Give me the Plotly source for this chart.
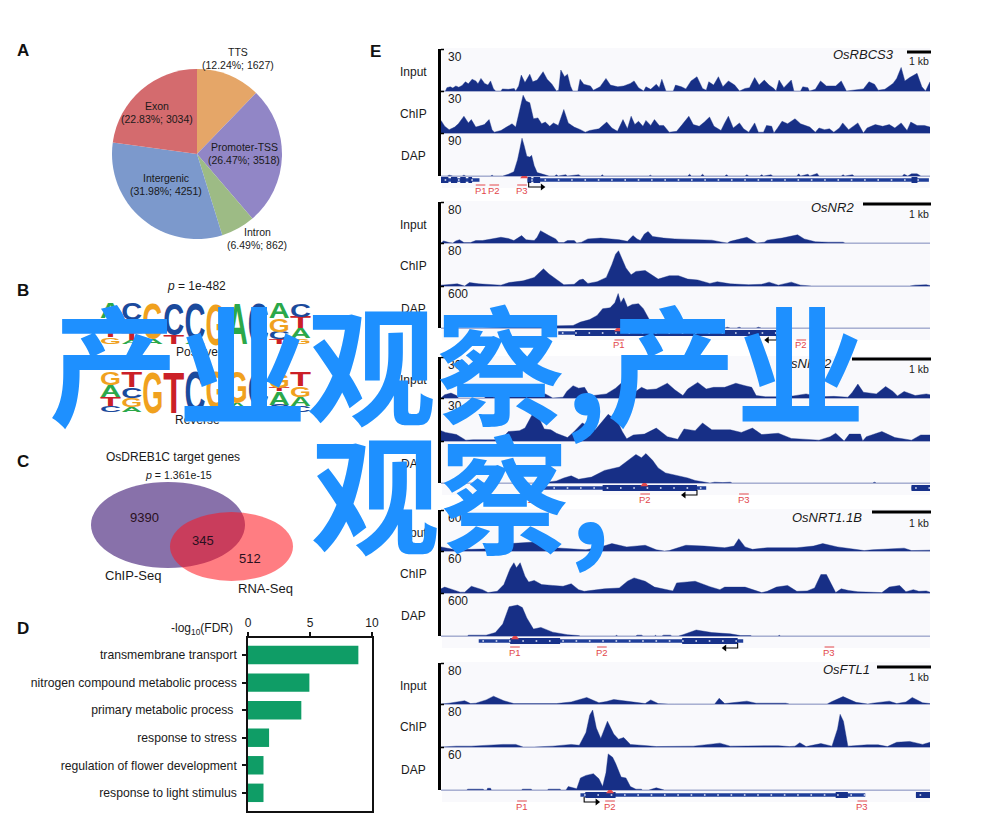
import plotly.graph_objects as go

W, H = 1000, 826
FONT = "Liberation Sans"
NAVY = "#172F86"
RED = "#E2474B"

# ---------- Panel A ----------
pie_labels = ["TTS", "Promoter-TSS", "Intron", "Intergenic", "Exon"]
pie_values = [1627, 3518, 862, 4251, 3034]
pie_pct = ["12.24", "26.47", "6.49", "31.98", "22.83"]
pie_colors = ["#E5A668", "#9186C6", "#9DBB85", "#7C99CC", "#D46B6E"]

# ---------- Panel B: information content (bits), top to bottom in each column ----------
logo_pos_letters = [list("ACTG"), list("CGTA"), list("GA"), list("CT"), list("CA"), list("G"), list("A"), list("C"), list("AGCT"), list("CTAG")]
logo_pos_bits = [[.74, .33, .6, .33], [.82, .6, .38, .2], [1.72, .28], [1.56, .44], [1.8, .2], [2.0], [2.0], [2.0], [.74, .66, .36, .24], [.66, .57, .49, .28]]
logo_rev_letters = [list("GATC"), list("TCGA"), list("G"), list("T"), list("C"), list("GT"), list("GAT"), list("CG"), list("GTAC"), list("TGAC")]
logo_rev_bits = [[.62, .58, .43, .31], [.74, .54, .44, .25], [2.0], [2.0], [2.0], [1.8, .2], [1.52, .34, .14], [1.7, .3], [.7, .16, .66, .36], [.72, .52, .43, .31]]
logo_colors = {"A": "#2BA84A", "C": "#1B4A9C", "G": "#F0A11E", "T": "#CB2027"}

# ---------- Panel C ----------
venn_counts = ["9390", "345", "512"]

# ---------- Panel D ----------
go_terms = ["transmembrane transport", "nitrogen compound metabolic process", "primary metabolic process ",
            "response to stress", "regulation of flower development", "response to light stimulus"]
go_scores = [8.9, 4.95, 4.3, 1.7, 1.25, 1.25]

# ---------- Panel E: (position, signal as % of the track scale) ----------
rbcs3_input = [(218,0),(230,0),(234,8),(243,10),(250,7),(258,12),(266,9),(275,13),(284,22),(292,17),(302,28),(312,24),(318,17),(326,30),(336,18),(345,14),(352,24),(360,5),(366,0),(380,0),(384,5),(400,4),(416,6),(420,0),(428,12),(435,38),(445,20),(458,40),(466,22),(478,26),(494,46),(505,28),(518,16),(530,0),(536,2),(542,50),(552,34),(560,40),(568,12),(574,0),(588,0),(594,28),(604,16),(622,12),(630,2),(648,10),(664,30),(676,14),(696,10),(712,12),(730,18),(740,24),(752,8),(766,0),(772,10),(785,4),(800,16),(808,8),(815,28),(826,0),(846,0),(852,14),(868,10),(880,5),(894,24),(910,34),(925,6),(935,2),(942,22),(955,14),(968,34),(980,10),(995,24),(1012,14),(1025,0),(1040,6),(1052,8),(1066,32),(1078,14),(1092,26),(1105,14),(1118,6),(1124,0),(1132,26),(1145,8),(1165,26),(1172,0),(1190,0),(1196,10),(1210,8),(1214,0),(1230,4),(1244,24),(1260,12),(1285,12),(1300,24),(1314,0),(1340,3),(1360,5),(1375,22),(1390,16),(1400,2),(1418,4),(1440,18),(1450,30),(1462,56),(1472,24),(1485,32),(1505,42),(1518,10),(1528,0),(1540,22)]
rbcs3_chip = [(218,30),(228,16),(240,8),(255,14),(265,22),(280,40),(292,24),(300,32),(312,14),(322,16),(335,20),(348,32),(356,8),(362,2),(380,6),(395,14),(410,22),(420,14),(430,52),(440,90),(448,76),(458,72),(468,34),(480,36),(490,22),(500,26),(512,16),(522,24),(535,18),(550,56),(562,24),(578,14),(595,8),(608,2),(620,6),(645,10),(666,26),(680,12),(695,4),(710,32),(722,10),(732,40),(742,20),(752,28),(764,16),(772,30),(785,18),(795,32),(808,18),(820,18),(835,2),(855,4),(870,20),(888,40),(900,20),(916,16),(930,26),(944,38),(956,16),(975,6),(985,24),(995,40),(1008,12),(1025,24),(1036,10),(1050,2),(1066,24),(1076,2),(1090,2),(1098,18),(1112,16),(1118,0),(1128,12),(1140,28),(1155,22),(1175,34),(1190,22),(1215,14),(1230,2),(1240,12),(1255,8),(1268,10),(1280,2),(1295,12),(1304,24),(1320,8),(1345,24),(1360,0),(1370,12),(1392,20),(1412,16),(1430,20),(1445,12),(1462,24),(1478,6),(1488,26),(1505,18),(1525,18),(1540,14)]
rbcs3_dap = [(218,0),(235,0),(240,2),(250,0),(275,0),(280,2),(285,0),(352,0),(356,2),(360,0),(385,0),(400,4),(415,10),(425,38),(431,62),(437,88),(443,70),(450,46),(458,44),(463,48),(470,24),(478,8),(490,5),(505,2),(510,0),(525,0),(530,3),(535,0),(555,3),(560,0),(590,3),(596,0),(650,0),(654,3),(658,0),(780,0),(784,2),(788,0),(885,0),(890,4),(895,0),(920,0),(925,4),(930,0),(985,0),(990,3),(995,0),(1040,0),(1045,3),(1050,0),(1080,0),(1085,3),(1090,0),(1110,3),(1115,0),(1180,0),(1185,5),(1190,0),(1210,4),(1215,0),(1235,6),(1240,0),(1300,0),(1305,3),(1310,0),(1330,3),(1335,0),(1465,0),(1470,4),(1480,0),(1490,5),(1505,5),(1515,0),(1540,0)]
nr2_input = [(218,0),(225,5),(240,1),(250,0),(258,5),(268,8),(280,1),(298,1),(312,6),(330,6),(350,9),(380,14),(400,11),(415,6),(436,18),(448,8),(470,6),(478,14),(487,30),(497,24),(510,18),(528,10),(536,1),(550,1),(560,6),(578,6),(585,0),(598,2),(615,10),(650,12),(675,10),(700,8),(722,4),(737,18),(748,10),(757,6),(768,22),(778,28),(790,16),(820,12),(850,10),(900,9),(950,7),(978,2),(992,0),(1000,4),(1020,8),(1045,14),(1060,6),(1072,0),(1092,2),(1100,7),(1140,12),(1182,20),(1200,10),(1230,3),(1265,2),(1305,2),(1310,0),(1540,0)]
nr2_chip = [(218,2),(235,3),(262,5),(282,0),(295,8),(320,5),(350,4),(380,2),(402,8),(440,12),(470,20),(482,30),(495,40),(510,28),(530,16),(550,3),(578,4),(592,14),(602,16),(615,6),(640,10),(665,20),(680,50),(690,74),(698,82),(708,62),(718,42),(732,26),(745,34),(770,36),(785,28),(805,16),(835,24),(860,24),(885,16),(912,14),(945,6),(965,10),(1000,5),(1050,3),(1085,4),(1105,9),(1130,2),(1145,5),(1165,9),(1190,2),(1220,0),(1485,0),(1500,2),(1530,3),(1540,1)]
nr2_dap = [(218,0),(330,0),(400,3),(500,4),(540,6),(575,6),(595,14),(620,20),(640,30),(655,46),(675,48),(688,60),(697,82),(704,60),(712,72),(722,50),(735,56),(752,58),(765,46),(778,26),(790,6),(808,2),(815,0),(985,0),(992,2),(1000,0),(1018,0),(1024,2),(1030,0),(1070,0),(1076,2),(1084,0),(1540,0)]
nar2_input = [(218,0),(228,8),(245,12),(260,6),(265,0),(335,0),(345,8),(360,2),(420,10),(500,10),(520,0),(548,2),(558,16),(575,30),(590,24),(606,26),(620,5),(640,8),(665,10),(690,24),(705,36),(725,30),(742,14),(760,26),(775,20),(800,22),(830,36),(850,20),(872,6),(885,22),(912,38),(935,22),(955,26),(985,26),(1015,36),(1040,30),(1058,26),(1070,6),(1095,3),(1125,3),(1170,5),(1205,10),(1240,3),(1280,4),(1305,2),(1318,2),(1330,14),(1345,34),(1360,14),(1395,10),(1420,28),(1440,16),(1452,5),(1470,16),(1500,6),(1530,10),(1540,8)]
nar2_chip = [(218,24),(230,20),(260,15),(285,2),(305,3),(360,3),(380,3),(400,22),(430,24),(445,30),(458,52),(470,70),(485,50),(497,28),(515,26),(530,18),(560,8),(578,22),(600,42),(635,26),(670,62),(695,46),(708,22),(720,5),(738,14),(768,16),(800,30),(830,10),(858,4),(875,28),(905,24),(925,42),(950,26),(1000,26),(1030,20),(1060,30),(1085,15),(1130,18),(1165,6),(1225,2),(1240,2),(1270,10),(1285,18),(1308,0),(1322,16),(1352,16),(1358,0),(1368,10),(1410,22),(1445,8),(1480,4),(1490,2),(1515,14),(1540,14)]
nar2_dap = [(218,0),(490,0),(530,5),(550,12),(570,17),(590,9),(625,14),(660,30),(700,38),(725,54),(745,68),(760,60),(772,70),(790,54),(805,36),(825,24),(860,17),(885,12),(905,6),(930,2),(945,0),(958,2),(980,1),(1000,2),(1005,0),(1385,0),(1390,2),(1395,0),(1540,0)]
nrt11_input = [(218,10),(228,8),(250,4),(300,4),(350,5),(380,6),(405,18),(440,20),(470,22),(490,10),(530,8),(570,5),(610,3),(650,10),(680,18),(720,10),(770,14),(800,3),(822,0),(835,1),(860,8),(880,14),(930,12),(985,8),(1010,12),(1023,30),(1040,10),(1060,4),(1100,8),(1180,8),(1225,12),(1250,18),(1290,10),(1335,5),(1362,1),(1385,3),(1470,7),(1490,1),(1520,2),(1540,2)]
nrt11_chip = [(218,10),(228,14),(250,8),(270,2),(282,2),(300,16),(330,8),(345,1),(370,4),(388,20),(405,58),(415,72),(422,60),(432,72),(445,40),(455,26),(470,30),(490,20),(520,18),(548,16),(570,22),(590,8),(605,4),(660,10),(700,12),(722,28),(740,36),(770,28),(795,14),(845,5),(855,24),(885,26),(905,28),(945,15),(972,8),(985,14),(1040,14),(1085,1),(1100,4),(1125,14),(1155,18),(1180,4),(1208,5),(1228,12),(1245,44),(1260,44),(1272,24),(1285,1),(1300,10),(1320,6),(1345,3),(1410,1),(1430,14),(1458,18),(1475,3),(1495,8),(1510,4),(1530,5),(1540,2)]
nrt11_dap = [(218,0),(290,0),(292,2),(340,2),(365,8),(385,28),(402,68),(415,70),(425,72),(438,66),(450,42),(468,16),(488,20),(520,9),(560,3),(590,1),(595,0),(690,0),(692,2),(696,0),(745,0),(748,2),(760,2),(764,0),(795,0),(798,2),(800,0),(815,0),(820,2),(838,2),(842,0),(860,0),(872,3),(908,14),(950,8),(1000,5),(1028,1),(1055,1),(1058,0),(1130,0),(1132,2),(1136,0),(1540,0)]
ftl1_input = [(218,0),(240,2),(282,8),(298,1),(312,2),(340,10),(360,19),(388,8),(415,1),(530,1),(570,5),(612,16),(645,3),(665,6),(685,11),(745,3),(770,1),(785,10),(805,1),(832,0),(845,1),(850,0),(958,0),(970,14),(985,1),(1015,4),(1045,7),(1070,2),(1110,2),(1150,2),(1160,0),(1262,0),(1275,6),(1305,18),(1340,4),(1372,0),(1385,2),(1430,7),(1450,1),(1475,5),(1492,16),(1520,3),(1540,1)]
ftl1_chip = [(218,0),(260,2),(300,2),(340,4),(385,6),(420,6),(440,0),(470,0),(520,2),(570,6),(592,4),(610,34),(620,74),(628,86),(638,44),(650,20),(668,60),(685,30),(698,18),(712,22),(730,6),(775,3),(800,1),(900,2),(972,9),(1000,2),(1050,2),(1130,3),(1160,1),(1175,2),(1188,10),(1205,1),(1245,8),(1275,2),(1290,42),(1297,76),(1306,60),(1318,2),(1370,5),(1400,5),(1425,1),(1450,11),(1485,13),(1520,6),(1540,11)]
ftl1_dap = [(218,0),(288,0),(290,2),(332,2),(334,0),(342,0),(344,4),(352,4),(354,0),(436,0),(438,2),(462,2),(464,0),(506,0),(508,2),(540,2),(542,0),(556,0),(562,8),(585,3),(595,28),(610,34),(630,38),(645,26),(655,8),(664,40),(670,84),(682,76),(690,62),(705,30),(718,28),(730,8),(745,2),(760,2),(762,0),(780,0),(800,5),(820,1),(822,0),(1540,0)]

# gene models: name, scale labels, tracks, intron spans, exon spans, promoter-fragment labels
gene_names = ["OsRBCS3", "OsNR2", "OsNRT2", "OsNRT1.1B", "OsFTL1"]
gene_name_x = [863, 832, 806, 827, 846]
gene_name_y = [54, 207, 363, 517, 669]
scale_bar_left = [907, 863, 852, 872, 877]
scale_bar_y = [52, 204, 359, 512, 667]
kb_y = [61, 214, 369, 523, 677]
track_scales = [["30", "30", "90"], ["80", "80", "600"], ["30", "30", "90"], ["60", "60", "600"], ["80", "80", "60"]]
track_data = [[rbcs3_input, rbcs3_chip, rbcs3_dap], [nr2_input, nr2_chip, nr2_dap], [nar2_input, nar2_chip, nar2_dap],
              [nrt11_input, nrt11_chip, nrt11_dap], [ftl1_input, ftl1_chip, ftl1_dap]]
track_names = ["Input", "ChIP", "DAP"]
track_edges = [[49, 91, 133, 176], [202, 243, 286, 328], [357, 398, 441, 483], [510, 551, 593, 636], [663, 704, 747, 790]]
gene_thin = [[(218, 322), (452, 1537)], [(535, 1125)], [(440, 935), (1490, 1540)], [(320, 1035)], [(595, 1365), (1502, 1540)]]
gene_thick = [[(218, 238), (245, 262), (270, 285), (292, 302), (452, 462), (468, 486), (1490, 1506)],
              [(580, 1125)], [(655, 910), (1490, 1540)], [(405, 540), (870, 1020)],
              [(608, 690), (1285, 1318), (1502, 1540)]]
fragment_names = [["P1", "P2", "P3"], ["P1", "P2"], ["P1", "P2", "P3"], ["P1", "P2", "P3"], ["P1", "P2", "P3"]]
fragment_pos = [[325, 362, 437], [700, 1192], [450, 770, 1037], [418, 653, 1268], [437, 675, 1357]]
peak_pos = [443, 697, 768, 418, 675]
tss_arrows = [(455, 492), (1125, 1100), (910, 875), (1020, 985), (605, 640)]
band_offset = [4, 5, 5, 5, 5]
arrow_offset = [11, 12, 12, 12, 12]
frag_offset = [14, 17, 16, 16, 16]


def px(x, y):
    return x / W, 1 - y / H


def dom_y(top, bottom):
    return [1 - bottom / H, 1 - top / H]


fig = go.Figure()
annots, shapes = [], []
layout_axes = {}


def ann(text, x, y, size=12, color="#1a1a1a", anchor="center", **kw):
    ax, ay = px(x, y)
    annots.append(dict(text=text, x=ax, y=ay, xref="paper", yref="paper", showarrow=False, xanchor=anchor, yanchor="middle",
                       font=dict(family=FONT, size=size, color=color), **kw))


# Panel letters
for letter, lx, ly in [("A", 23, 51), ("B", 23, 290), ("C", 23, 461), ("D", 23, 628), ("E", 375, 52)]:
    ann(f"<b>{letter}</b>", lx, ly, size=17, color="#111111")

# --- A: pie ---
fig.add_trace(go.Pie(labels=pie_labels, values=pie_values, sort=False, direction="clockwise", rotation=0, textinfo="none",
                     marker=dict(colors=pie_colors, line=dict(width=0)), showlegend=False, hoverinfo="skip",
                     domain=dict(x=[112 / W, 282 / W], y=dom_y(69, 239))))
for i, (lx, ly) in enumerate([(238, 52), (244, 147), (257, 232), (166, 178), (157, 106)]):
    ann(pie_labels[i], lx, ly, size=10.5)
    ann(f"({pie_pct[i]}%; {pie_values[i]:d})", lx, ly + 13, size=10.5)

# --- B: logos ---
layout_axes["xaxis2"] = dict(domain=[100 / W, 311 / W], range=[0.5, 10.5], visible=False, anchor="y2")
layout_axes["yaxis2"] = dict(domain=dom_y(298, 339), range=[0, 2], visible=False, anchor="x2")
layout_axes["yaxis3"] = dict(domain=dom_y(366, 407), range=[0, 2], visible=False, anchor="x2")
BIT_PX, COL_PX = 20.5, 21


def logo_trace(letters, bits, axis):
    xs, ys, ts, cs, cd = [], [], [], [], []
    for col, (ll, bb) in enumerate(zip(letters, bits), start=1):
        base = 0
        for letter, b in zip(reversed(ll), reversed(bb)):
            xs.append(col); ys.append(base); ts.append(letter); cs.append(logo_colors[letter])
            cd.append([COL_PX, b * BIT_PX, axis])
            base += b
    fig.add_trace(go.Scatter(x=xs, y=ys, text=ts, mode="text", customdata=cd, cliponaxis=False, showlegend=False, hoverinfo="skip",
                             textfont=dict(family=FONT, size=20, color=cs, weight=700), xaxis="x2",
                             yaxis="y2" if axis == "yaxis2" else "y3"))


logo_trace(logo_pos_letters, logo_pos_bits, "yaxis2")
logo_trace(logo_rev_letters, logo_rev_bits, "yaxis3")
ann("<i>p</i> = 1e-482", 196, 286)
ann("Positive", 197, 352)
ann("Reverse", 197, 420)

# --- C: venn ---
ex1, ey1 = px(91, 482), px(245, 568)
ex2, ey2 = px(170, 512), px(293, 581)
shapes.append(dict(type="circle", xref="paper", yref="paper", x0=ex1[0], x1=ey1[0], y0=ex1[1], y1=ey1[1], fillcolor="#8871AA", line_width=0))
shapes.append(dict(type="circle", xref="paper", yref="paper", x0=ex2[0], x1=ey2[0], y0=ex2[1], y1=ey2[1], fillcolor="rgba(255,18,27,0.55)", line_width=0))
ann("OsDREB1C target genes", 173, 457, size=12)
ann("<i>p</i> = 1.361e-15", 178, 475, size=10.6)
for txt, lx, ly in zip(venn_counts, [144, 203, 250], [517, 540, 558]):
    ann(txt, lx, ly, size=13, color="#2a1020")
ann("ChIP-Seq", 133, 575, size=13)
ann("RNA-Seq", 265, 588, size=13)

# --- D: bars ---
fig.add_trace(go.Bar(x=go_scores, y=go_terms, orientation="h", marker=dict(color="#0F9D66", line_width=0), width=0.67,
                     showlegend=False, hoverinfo="skip", xaxis="x", yaxis="y"))
layout_axes["xaxis"] = dict(domain=[248 / W, 372 / W], range=[0, 10], side="top", tickvals=[0, 5, 10], ticks="outside", ticklen=4, tickwidth=1.5,
                            tickcolor="#111", showline=True, linecolor="#111", linewidth=1.5, mirror=True, showgrid=False, zeroline=False, anchor="y",
                            tickfont=dict(family=FONT, size=12, color="#1a1a1a"))
layout_axes["yaxis"] = dict(domain=dom_y(638, 811), range=[5.66, -0.62], categoryorder="array", categoryarray=go_terms, ticks="outside", ticklen=4,
                            tickwidth=1.5, tickcolor="#111", showline=True, linecolor="#111", linewidth=1.5, mirror=True, showgrid=False, zeroline=False,
                            anchor="x", ticklabelstandoff=3, tickfont=dict(family=FONT, size=12.2, color="#1a1a1a"))
ann("-log<sub>10</sub>(FDR)", 202, 629, size=12)

# --- E: tracks ---
layout_axes["xaxis3"] = dict(domain=[441 / W, 930 / W], range=[218, 1540], visible=False, anchor="y4")
axis_n = 4
for p in range(5):
    edges = track_edges[p]
    shapes.append(dict(type="rect", xref="paper", yref="paper", layer="below", x0=442 / W, x1=930 / W, y0=1 - (edges[3] + 12) / H, y1=1 - (edges[0] - 1) / H,
                       fillcolor="#F9F9FC", line_width=0))
    for t in range(3):
        data = track_data[p][t]
        top, bottom = edges[t], edges[t + 1]
        name = f"yaxis{axis_n}"
        layout_axes[name] = dict(domain=dom_y(top, bottom), range=[0, 100], anchor="x3", showticklabels=False, ticks="", showgrid=False,
                                 zeroline=True, zerolinecolor="#A9B0D2", zerolinewidth=1, showline=True, linecolor="#000000", linewidth=2.6)
        fig.add_trace(go.Scatter(x=[d[0] for d in data], y=[d[1] for d in data], mode="lines", line=dict(color=NAVY, width=0.4), fill="tozeroy", fillcolor=NAVY,
                                 showlegend=False, hoverinfo="skip", xaxis="x3", yaxis=f"y{axis_n}"))
        ann(track_names[t], 413, top + 23, size=12)
        ann(track_scales[p][t], 446, top + 8, size=12, anchor="left")
        hook_x, hook_y = px(441, top + 0.5)
        shapes.append(dict(type="line", xref="paper", yref="paper", x0=hook_x, x1=hook_x + 3 / W, y0=hook_y, y1=hook_y, line=dict(color="#000", width=1.5)))
        axis_n += 1
    # gene model row, in pixels below the DAP baseline
    gene_axis = f"y{axis_n}"
    layout_axes[f"yaxis{axis_n}"] = dict(domain=dom_y(edges[3], edges[3] + 24), range=[24, 0], visible=False, anchor="x3")
    for a, b in gene_thin[p]:
        fig.add_trace(go.Scatter(x=[a, b], y=[band_offset[p]] * 2, mode="lines", line=dict(color="#1F3E9A", width=3.4), showlegend=False, hoverinfo="skip", xaxis="x3", yaxis=gene_axis))
    for a, b in gene_thick[p]:
        fig.add_trace(go.Scatter(x=[a, b], y=[band_offset[p]] * 2, mode="lines", line=dict(color="#17318A", width=6), showlegend=False, hoverinfo="skip", xaxis="x3", yaxis=gene_axis))
    spans = gene_thin[p]
    ticks = [v for a, b in spans for v in range(a + 12, b, 36)]
    fig.add_trace(go.Scatter(x=ticks, y=[band_offset[p]] * len(ticks), mode="markers", marker=dict(color="#DDE3F5", size=1.6, symbol="square"),
                             showlegend=False, hoverinfo="skip", xaxis="x3", yaxis=gene_axis))
    fig.add_trace(go.Scatter(x=[peak_pos[p]], y=[band_offset[p] - 3.5], mode="markers", marker=dict(color=RED, size=7, symbol="triangle-up"),
                             showlegend=False, hoverinfo="skip", xaxis="x3", yaxis=gene_axis))
    for fname, fx in zip(fragment_names[p], fragment_pos[p]):
        annots.append(dict(text=fname, x=fx, y=frag_offset[p], xref="x3", yref=gene_axis, showarrow=False, yanchor="middle",
                           font=dict(family=FONT, size=9.5, color=RED)))
        shapes.append(dict(type="line", xref="x3", yref=gene_axis, x0=fx - 13, x1=fx + 13, y0=frag_offset[p] - 5, y1=frag_offset[p] - 5, line=dict(color=RED, width=1)))
    # transcription start: bent arrow
    a0, a1 = tss_arrows[p]
    oy = arrow_offset[p]
    fig.add_trace(go.Scatter(x=[a0, a0, a1], y=[band_offset[p] + 2, oy, oy], mode="lines", line=dict(color="#000", width=1.1),
                             showlegend=False, hoverinfo="skip", xaxis="x3", yaxis=gene_axis))
    fig.add_trace(go.Scatter(x=[a1], y=[oy], mode="markers", marker=dict(color="#000", size=6, symbol="triangle-right" if a1 > a0 else "triangle-left"),
                             showlegend=False, hoverinfo="skip", xaxis="x3", yaxis=gene_axis))
    # scale bar and gene name
    sx0, sy = px(scale_bar_left[p], scale_bar_y[p])
    shapes.append(dict(type="line", xref="paper", yref="paper", x0=sx0, x1=931 / W, y0=sy, y1=sy, line=dict(color="#000", width=3)))
    ann("1 kb", 931, kb_y[p], size=10.5, anchor="right")
    ann(f"<i>{gene_names[p]}</i>", gene_name_x[p], gene_name_y[p], size=13)
    axis_n += 1

# overlay text
wm = dict(family="Noto Sans CJK SC", size=129, color="#1E90FF", weight=700)
for text, cx, cy in [("产业观察,产业", 457, 359), ("观察,", 461, 489)]:
    wx, wy = px(cx, cy)
    annots.append(dict(text=text, x=wx, y=wy, xref="paper", yref="paper", showarrow=False, xanchor="center", yanchor="middle", font=wm))

fig.update_layout(width=W, height=H, margin=dict(l=0, r=0, t=0, b=0, autoexpand=False), paper_bgcolor="white", plot_bgcolor="rgba(0,0,0,0)",
                  annotations=annots, shapes=shapes, showlegend=False, bargap=0.33, **layout_axes)

page_and_letters = """
document.body.style.margin = '0';
document.documentElement.style.overflow = 'hidden';
var gd = document.getElementById('{plot_id}');
var fl = gd._fullLayout;
gd.querySelectorAll('g.textpoint').forEach(function (g) {
  var d = g.__data__;
  if (!d || !d.data) return;
  var t = g.querySelector('text');
  var b = t.getBBox();
  var w = d.data[0], h = d.data[1];
  var x = fl.xaxis2.c2p(d.x), y = fl[d.data[2]].c2p(d.y);
  var sx = w / b.width, sy = h / (b.height * 0.65);
  t.setAttribute('transform', 'translate(' + x + ',' + y + ') scale(' + sx + ',' + sy + ') translate(' + (-(b.x + b.width / 2)) + ',' + (-(b.y + b.height * 0.81)) + ')');
});
"""
fig.write_html("out.html", post_script=page_and_letters, config=dict(responsive=False, displayModeBar=False))
